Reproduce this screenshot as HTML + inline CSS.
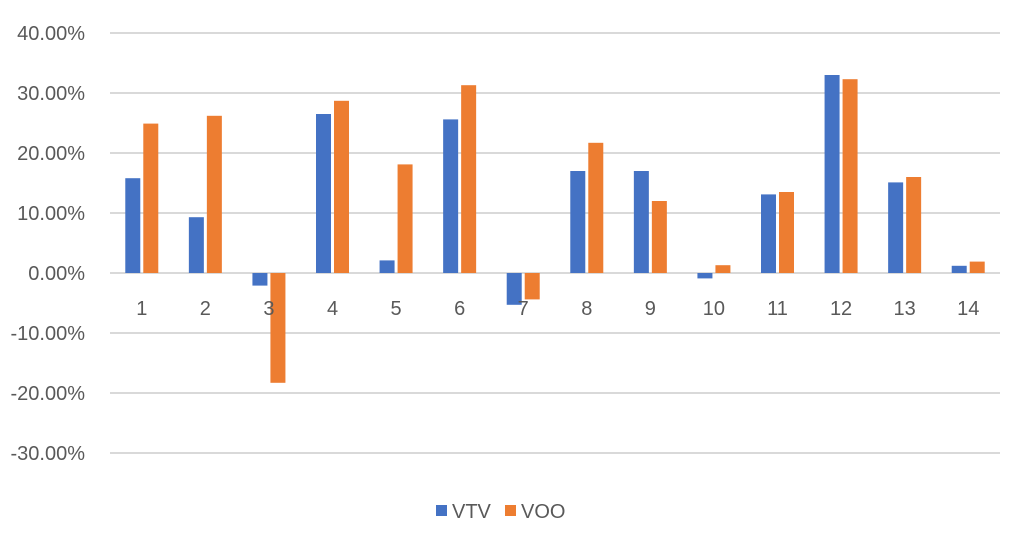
<!DOCTYPE html>
<html><head><meta charset="utf-8"><style>
html,body{margin:0;padding:0;background:#fff;width:1024px;height:543px;overflow:hidden}
svg text{font-family:"Liberation Sans",sans-serif;fill:#595959}
</style></head><body>
<svg id="chart" width="1024" height="543" viewBox="0 0 1024 543" xmlns="http://www.w3.org/2000/svg"></svg>
<script>
const categories = ["1","2","3","4","5","6","7","8","9","10","11","12","13","14"];
const vtv = [15.8, 9.3, -2.1, 26.5, 2.1, 25.6, -5.3, 17.0, 17.0, -0.9, 13.1, 33.0, 15.1, 1.2];
const voo = [24.9, 26.2, -18.3, 28.7, 18.1, 31.3, -4.4, 21.7, 12.0, 1.3, 13.5, 32.3, 16.0, 1.9];
const yTicks = [40, 30, 20, 10, 0, -10, -20, -30];

const svg = document.getElementById('chart');
const NS = 'http://www.w3.org/2000/svg';
const x0 = 110, x1 = 1000, zeroY = 273, pxPer = 6;
const step = (x1 - x0) / categories.length;
const y = v => zeroY - v * pxPer;
const cx = i => x0 + step * (i + 0.5);
function mk(tag, attrs){const e=document.createElementNS(NS,tag);for(const k in attrs)e.setAttribute(k,attrs[k]);svg.appendChild(e);return e;}

yTicks.forEach(t => {
  const g = mk('line',{x1:x0,x2:x1,y1:y(t),y2:y(t),stroke:'#d9d9d9','stroke-width':2});
  
  
  const l = mk('text',{x:85,y:y(t)+7,'text-anchor':'end','font-size':20});
  l.textContent = t.toFixed(2) + '%';
  
  
});

categories.forEach((c, i) => {
  const bw = 15, gap = 3;
  const v1 = vtv[i], v2 = voo[i];
  const b1 = mk('rect',{x:cx(i)-gap/2-bw,y:Math.min(y(v1),zeroY),width:bw,height:Math.abs(v1*pxPer),fill:'#4472c4'});
  
  
  const b2 = mk('rect',{x:cx(i)+gap/2,y:Math.min(y(v2),zeroY),width:bw,height:Math.abs(v2*pxPer),fill:'#ed7d31'});
  
  
  const l = mk('text',{x:cx(i),y:315,'text-anchor':'middle','font-size':20});
  l.textContent = c;
  
  
});

const lg1 = mk('rect',{x:436,y:505,width:11,height:11,fill:'#4472c4'});


const lt1 = mk('text',{x:452,y:518,'font-size':20});
lt1.textContent='VTV';


const lg2 = mk('rect',{x:505,y:505,width:11,height:11,fill:'#ed7d31'});


const lt2 = mk('text',{x:521,y:518,'font-size':20});
lt2.textContent='VOO';


</script>
</body></html>
